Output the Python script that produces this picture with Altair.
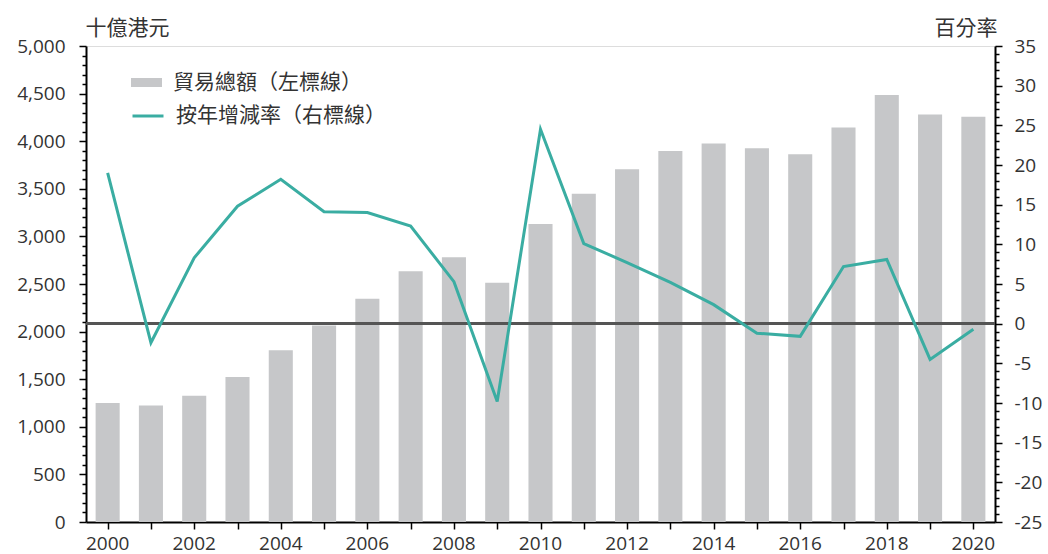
import altair as alt
import pandas as pd

years = [2000, 2001, 2002, 2003, 2004, 2005, 2006, 2007, 2008, 2009, 2010,
         2011, 2012, 2013, 2014, 2015, 2016, 2017, 2018, 2019, 2020]
trade = [1250, 1225, 1326, 1523, 1803, 2063, 2344, 2635, 2782, 2512, 3130,
         3449, 3705, 3898, 3975, 3926, 3863, 4144, 4484, 4281, 4256]
rate = [19.0, -2.4, 8.3, 14.8, 18.2, 14.1, 14.0, 12.3, 5.3, -9.8, 24.5,
        10.1, 7.7, 5.2, 2.4, -1.2, -1.6, 7.2, 8.1, -4.5, -0.7]
even_years = [2000, 2002, 2004, 2006, 2008, 2010, 2012, 2014, 2016, 2018, 2020]
left_ticks = list(range(0, 5001, 100))
right_ticks = list(range(-25, 36, 1))
bar_label = "貿易總額（左標線）"
line_label = "按年增減率（右標線）"
left_title = "十億港元"
right_title = "百分率"

df = pd.DataFrame({"year": years, "trade": trade, "rate": rate})

CJK = "Noto Sans CJK TC"
NUM = "Open Sans"
TXT = "#333333"
GRAY = "#c6c7c9"
TEAL = "#3aada2"

left_axis = alt.Axis(
    orient="left", values=left_ticks,
    labelExpr="datum.value % 500 === 0 ? format(datum.value, ',') : ''",
    tickSize=7,
    tickDash={"condition": {"test": "datum.value % 500 !== 0", "value": [4, 20]},
              "value": [1, 0]},
    tickColor="black", tickWidth=1.5,
    domainColor="black", domainWidth=2,
    labelFont=NUM, labelFontSize=19, labelColor=TXT,
    labelPadding=14, labelFlush=False, labelOverlap=False,
    title=left_title, titleAngle=0, titleAlign="left",
    titleBaseline="middle", titleX=-1, titleY=-18,
    titleFont=CJK, titleFontSize=21, titleFontWeight="normal",
    titleColor=TXT, grid=False)

right_axis = alt.Axis(
    orient="right", values=right_ticks,
    labelExpr="datum.value % 5 === 0 ? '' + datum.value : ''",
    tickSize=7,
    tickDash={"condition": {"test": "datum.value % 5 !== 0", "value": [4, 20]},
              "value": [1, 0]},
    tickColor="black", tickWidth=1.5,
    domainColor="black", domainWidth=2,
    labelFont=NUM, labelFontSize=19, labelColor=TXT,
    labelPadding=12, labelFlush=False, labelOverlap=False,
    title=right_title, titleAngle=0, titleAlign="right",
    titleBaseline="middle", titleX=2, titleY=-18,
    titleFont=CJK, titleFontSize=21, titleFontWeight="normal",
    titleColor=TXT, grid=False)

right_scale = alt.Scale(domain=[-25, 35], nice=False, zero=False)

bars = alt.Chart(df).mark_bar(color=GRAY).encode(
    x=alt.X("year:O",
            scale=alt.Scale(paddingInner=0.444, paddingOuter=0.222),
            axis=alt.Axis(orient="bottom", values=even_years, ticks=False,
                          labelAngle=0, labelFont=NUM, labelFontSize=19,
                          labelColor=TXT, labelPadding=12, title=None,
                          domain=False, labelFlush=False)),
    y=alt.Y("trade:Q",
            scale=alt.Scale(domain=[0, 5000], nice=False, zero=True),
            axis=left_axis),
    fill=alt.Fill("lbl:N",
                  scale=alt.Scale(domain=[bar_label], range=[GRAY]),
                  legend=alt.Legend(orient="none", legendX=45, legendY=21,
                                    title=None, symbolType="M-1,-0.29H1V0.29H-1Z",
                                    symbolSize=961, symbolStrokeWidth=0,
                                    labelFont=CJK, labelFontSize=21,
                                    labelColor=TXT, labelOffset=11,
                                    labelLimit=400)),
).transform_calculate(lbl=f"'{bar_label}'")

zero = alt.Chart(df).mark_rule(color="#555555", strokeWidth=2).encode(
    y=alt.Y(datum=0, scale=right_scale, axis=right_axis)
)

line = alt.Chart(df).mark_line(color=TEAL, strokeWidth=3).encode(
    x=alt.X("year:O",
            scale=alt.Scale(paddingInner=0, paddingOuter=0),
            axis=alt.Axis(orient="bottom", labels=False, bandPosition=0,
                          tickSize=7, tickColor="black", tickWidth=1.5,
                          domainColor="black", domainWidth=2, title=None)),
    y=alt.Y("rate:Q", scale=right_scale, axis=right_axis),
    stroke=alt.Stroke("lbl:N",
                      scale=alt.Scale(domain=[line_label], range=[TEAL]),
                      legend=alt.Legend(orient="none", legendX=45, legendY=53,
                                        title=None, symbolType="stroke",
                                        symbolSize=961, symbolStrokeWidth=3,
                                        labelFont=CJK, labelFontSize=21,
                                        labelColor=TXT, labelOffset=11,
                                        labelLimit=400)),
).transform_calculate(lbl=f"'{line_label}'")

inner = alt.layer(zero, line)

chart = alt.layer(bars, inner).resolve_scale(
    x="independent", y="independent", fill="independent", stroke="independent"
).resolve_axis(x="independent", y="independent").properties(
    width=909, height=476,
    autosize=alt.AutoSizeParams(type="none"),
    padding={"left": 86, "top": 46, "right": 53, "bottom": 32},
).configure_view(stroke="black", strokeWidth=1.5).configure(background="white")

chart.save("out.html", embed_options={"renderer": "svg", "actions": False})
